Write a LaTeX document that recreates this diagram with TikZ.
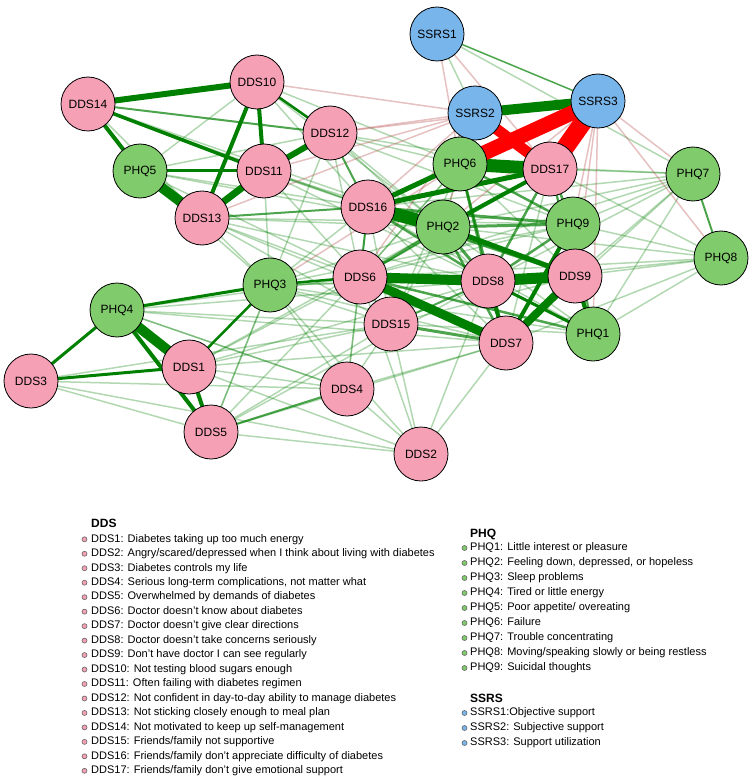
\documentclass[tikz,border=0pt]{standalone}
\usepackage{fontspec}
\setmainfont{Liberation Sans}
\pgfdeclarelayer{bg}
\pgfsetlayers{bg,main}
\definecolor{ddsc}{RGB}{245,160,180}
\definecolor{phqc}{RGB}{128,203,107}
\definecolor{ssrc}{RGB}{120,181,235}
\definecolor{eg}{RGB}{0,128,0}
\definecolor{er}{RGB}{255,0,0}
\definecolor{ebr}{RGB}{185,80,80}
\begin{document}
\begin{tikzpicture}[x=1pt,y=-1pt,
  nd/.style={circle,draw=black,line width=0.8pt,minimum size=54pt,inner sep=0pt,font=\fontsize{12}{14}\selectfont},
  dds/.style={nd,fill=ddsc},
  phq/.style={nd,fill=phqc},
  ssr/.style={nd,fill=ssrc},
  strong/.style={draw=eg},
  medium/.style={draw=eg,opacity=0.7},
  faint/.style={draw=eg,opacity=0.3,line width=1.5pt},
  redge/.style={draw=er},
  fred/.style={draw=ebr,opacity=0.35,line width=1.5pt},
  lg/.style={anchor=west,inner sep=0pt,font=\fontsize{11}{13}\selectfont,text height=8pt,text depth=2.4pt},
  lh/.style={anchor=west,inner sep=0pt,font=\fontsize{12}{14}\selectfont\bfseries,text height=8.6pt,text depth=0pt},
  bul/.style={circle,inner sep=0pt,minimum size=5pt,line width=0.6pt,draw=black!60}
]
\useasboundingbox (0,0) rectangle (753,778);

% ---------- nodes ----------
\node[dds] (d14) at (88,104) {DDS14};
\node[dds] (d10) at (257,82) {DDS10};
\node[dds] (d12) at (330,133) {DDS12};
\node[phq] (p5) at (140,171) {PHQ5};
\node[dds] (d11) at (264,171) {DDS11};
\node[dds] (d13) at (202,218) {DDS13};
\node[dds] (d16) at (368,207) {DDS16};
\node[ssr] (s1) at (437,34) {SSRS1};
\node[ssr] (s2) at (475,113) {SSRS2};
\node[ssr] (s3) at (598,101) {SSRS3};
\node[phq] (p6) at (460,164) {PHQ6};
\node[dds] (d17) at (550,169) {DDS17};
\node[phq] (p7) at (693,174) {PHQ7};
\node[phq] (p2) at (443,227) {PHQ2};
\node[phq] (p9) at (573,224) {PHQ9};
\node[phq] (p8) at (721,258) {PHQ8};
\node[dds] (d8) at (488,281) {DDS8};
\node[dds] (d9) at (575,276) {DDS9};
\node[dds] (d15) at (391,324) {DDS15};
\node[dds] (d7) at (506,343) {DDS7};
\node[phq] (p1) at (593,334) {PHQ1};
\node[dds] (d2) at (421,454) {DDS2};
\node[phq] (p3) at (270,285) {PHQ3};
\node[dds] (d6) at (360,277) {DDS6};
\node[phq] (p4) at (117,310) {PHQ4};
\node[dds] (d1) at (189,367) {DDS1};
\node[dds] (d3) at (31,381) {DDS3};
\node[dds] (d5) at (211,432) {DDS5};
\node[dds] (d4) at (347,389) {DDS4};

% ---------- edges ----------
\begin{pgfonlayer}{bg}
\fill[white] (0,0) rectangle (753,778);
\foreach \a/\b in {d14/p2,d14/d16,d14/d13,d10/d16,d10/p6,d10/p2,d10/p5,d12/p2,d12/d6,d12/d8,d12/p3,d12/p9,d12/d17,d12/p6,
  d11/p2,d11/d6,d11/d8,d11/p3,d11/d16,d11/d9,d13/p2,d13/d6,d13/d8,d13/p9,d13/p3,d13/d15,d13/d7,
  p5/d16,p5/d6,p5/d12,p5/p2,p5/p3,d16/d15,d16/p3,d16/d7,d16/p1,
  p3/d8,p3/d7,p3/p2,p3/d15,p3/d9,p3/p9,p3/d5,p3/d4,p3/d2,p3/p1,
  d6/d15,d6/d4,d6/p9,d6/d17,d6/p6,d15/d4,d15/d2,d15/p2,d15/d9,d15/p1,d15/p6,
  d4/d1,d4/d2,d4/d7,d4/p4,d4/d16,d5/d2,d5/d6,d5/d15,d5/p3,d5/d3,d5/d8,d5/d7,
  d3/d4,d3/d15,d3/d2,d1/d6,d1/d15,d1/d7,d1/d8,d1/d2,d1/p2,p4/d6,p4/d15,p4/d8,p4/d4,p4/d7,
  d2/d6,d2/d7,d2/d8,d7/p8,p1/p8,d9/p8,p9/p8,p2/p8,d17/p8,
  p7/d17,p7/p9,p7/d9,p7/p2,p7/d8,p7/p6,p7/d16,p7/d7,p7/p1,p8/d8,p8/d6,p7/d6,
  p6/p2,d17/d9,p9/d9,d17/d7,p6/d6,p6/d9,d17/d6,p2/p1,s1/s2,s1/p7}
  \draw[faint] (\a.center) -- (\b.center);
\foreach \a/\b in {s1/p6,s1/d17,s3/p7,s2/d16,s2/d12,s2/d13,s3/d16,p6/p3,s3/p9,s3/d9,s2/p2,s3/p2,s2/d11,s3/d12,s3/p8,d10/s2,s3/p1,s2/d6}
  \draw[fred] (\a.center) -- (\b.center);
\foreach \a/\b/\w in {d14/d12/2,p2/p9/3,p6/p9/2.5,d17/d8/2.5,p2/d8/3,d16/d9/2.5,d6/p2/3,d16/d8/2.5,d6/d9/2.5,
  d15/d7/3,d6/p1/2.5,p6/d8/2.5,d5/d4/2,d13/d16/2,d12/d16/2,p9/p1/2,p7/p8/2,d15/d8/2,p6/d7/2.5,
  d17/p1/2,p2/d7/2.5,d6/d16/2,s1/s3/1.5,p9/d8/2.5,d17/p9/2.5,d16/p9/3}
  \draw[medium,line width=\w pt] (\a.center) -- (\b.center);
\foreach \a/\b/\w in {d14/d10/6,d14/p5/4,d14/d11/3.5,d10/d11/4,d10/d13/4,d10/d12/2.5,p5/d13/10,p5/d11/3,
  d11/d13/7,d11/d12/6,s2/s3/10,p6/d17/13,d16/p2/13,d16/p6/5,d16/d17/5,d6/d8/10,d8/d9/11,d6/d7/9,
  d7/d9/8,d7/p9/4,d8/d7/4,d9/p1/4,d8/p1/3,p2/d9/5,p2/d17/4,p4/d1/10,p4/d5/4,d1/d5/4,d3/p4/3,
  d3/d1/3,p4/p3/3,p3/d1/2.5,p3/d6/2.5}
  \draw[strong,line width=\w pt] (\a.center) -- (\b.center);
\foreach \a/\b/\w in {s3/p6/15,s3/d17/18,s2/d17/11,s2/p6/8}
  \draw[redge,line width=\w pt] (\a.center) -- (\b.center);
\end{pgfonlayer}

% ---------- legend ----------
\node[lh] (hdds) at (91,523) {DDS};
\foreach \t [count=\k from 1] in {{Diabetes taking up too much energy},
  {Angry/scared/depressed when I think about living with diabetes},
  {Diabetes controls my life},
  {Serious long-term complications, not matter what},
  {Overwhelmed by demands of diabetes},
  {Doctor doesn't know about diabetes},
  {Doctor doesn't give clear directions},
  {Doctor doesn't take concerns seriously},
  {Don't have doctor I can see regularly},
  {Not testing blood sugars enough},
  {Often failing with diabetes regimen},
  {Not confident in day-to-day ability to manage diabetes},
  {Not sticking closely enough to meal plan},
  {Not motivated to keep up self-management},
  {Friends/family not supportive},
  {Friends/family don't appreciate difficulty of diabetes},
  {Friends/family don't give emotional support}}
  {\node[bul,fill=ddsc] (bd\k) at (84.5,{539.3+14.47*(\k-1)}) {};
   \node[lg] (ld\k) at (91,{539.3+14.47*(\k-1)}) {DDS\k: \t};}

\node[lh] (hphq) at (470,533) {PHQ};
\foreach \t [count=\k from 1] in {{Little interest or pleasure},
  {Feeling down, depressed, or hopeless},
  {Sleep problems},
  {Tired or little energy},
  {Poor appetite/ overeating},
  {Failure},
  {Trouble concentrating},
  {Moving/speaking slowly or being restless},
  {Suicidal thoughts}}
  {\node[bul,fill=phqc] (bp\k) at (464.5,{548+15*(\k-1)}) {};
   \node[lg] (lp\k) at (470,{548+15*(\k-1)}) {PHQ\k: \t};}

\node[lh] (hssr) at (470,698) {SSRS};
\node[bul,fill=ssrc] (bs1) at (464.5,713) {};
\node[lg] (ls1) at (470,713) {SSRS1:Objective support};
\node[bul,fill=ssrc] (bs2) at (464.5,728) {};
\node[lg] (ls2) at (470,728) {SSRS2: Subjective support};
\node[bul,fill=ssrc] (bs3) at (464.5,743) {};
\node[lg] (ls3) at (470,743) {SSRS3: Support utilization};
\end{tikzpicture}
\end{document}
